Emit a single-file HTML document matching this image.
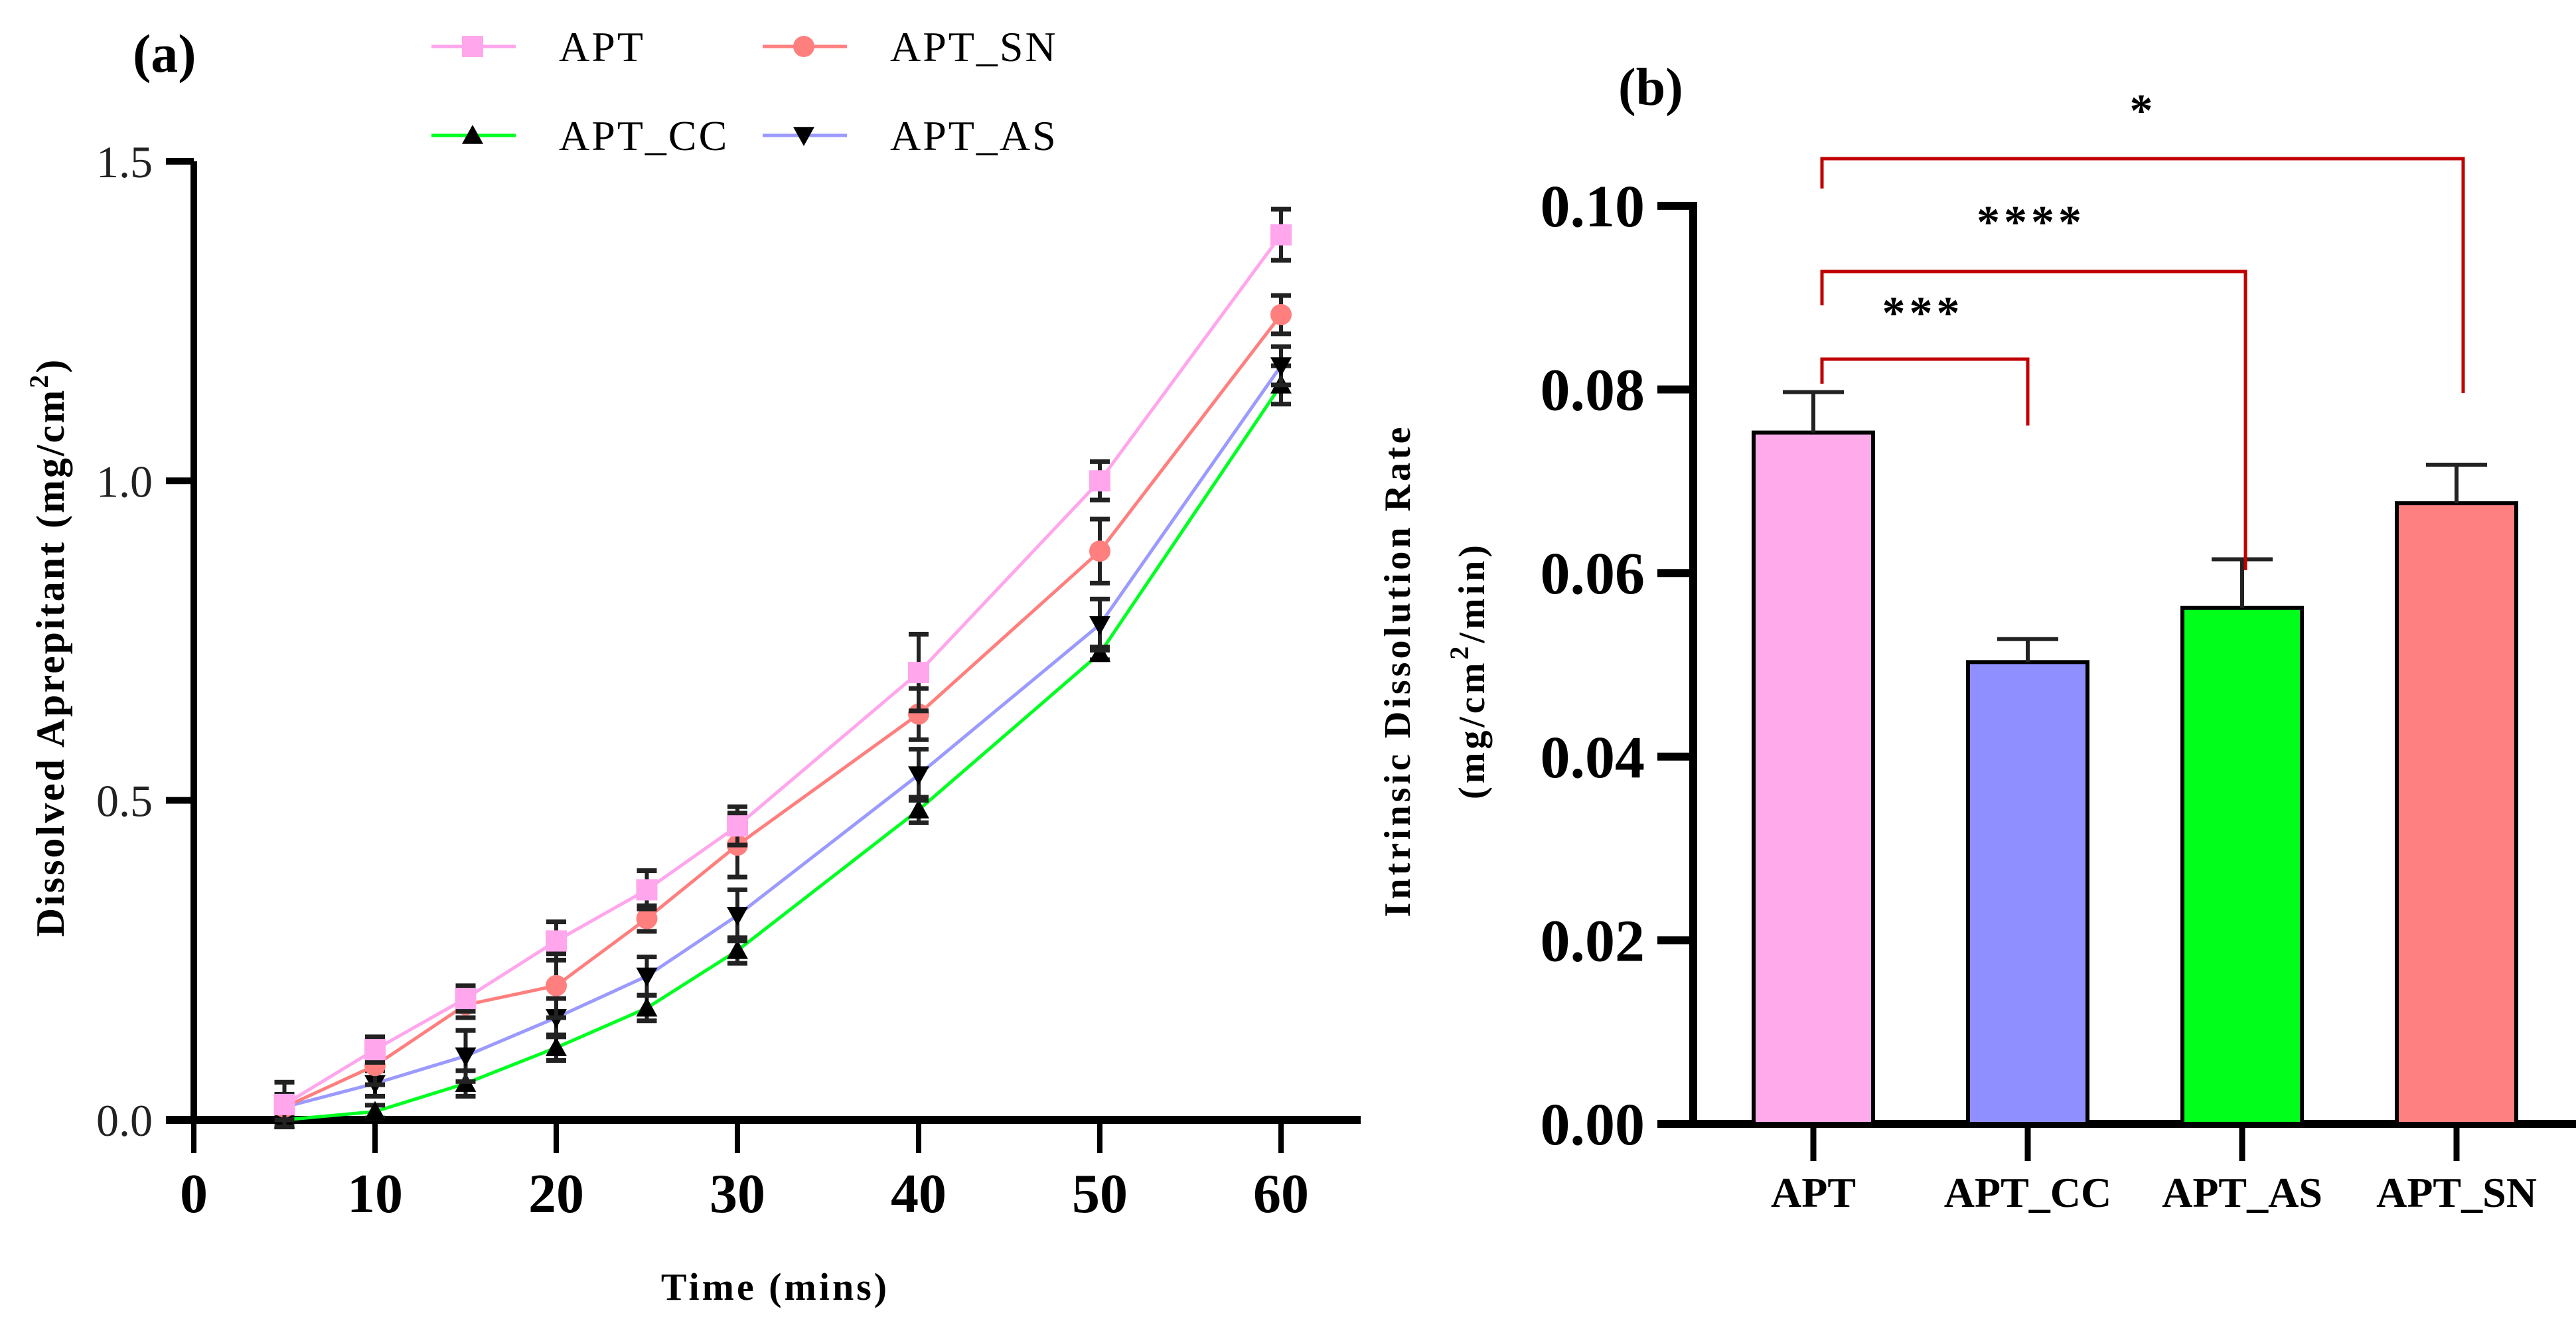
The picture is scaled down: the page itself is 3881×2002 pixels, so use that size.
<!DOCTYPE html>
<html><head><meta charset="utf-8"><style>
html,body{margin:0;padding:0;background:#fff;}
svg{display:block;}
text{font-family:"Liberation Serif",serif;}
</style></head><body>
<svg id="chart" width="3881" height="2002" viewBox="0 0 3881 2002" xmlns="http://www.w3.org/2000/svg">
<g id="pa"></g>
<g id="pb"></g>
</svg>
<script>
// Panel (a) data
const times = [5,10,15,20,25,30,40,50,60];
const aptVals = [0.024,0.11,0.19,0.28,0.36,0.46,0.70,1.00,1.385];
const aptErr  = [0.035,0.02,0.02,0.03,0.03,0.03,0.06,0.03,0.04];
const snVals  = [0.02,0.085,0.18,0.21,0.315,0.43,0.635,0.89,1.26];
const snErr   = [0.02,0.03,0.02,0.05,0.02,0.05,0.04,0.05,0.03];
const asVals  = [0.02,0.057,0.10,0.16,0.225,0.32,0.54,0.775,1.18];
const asErr   = [0.01,0.02,0.04,0.03,0.03,0.04,0.04,0.04,0.03];
const ccVals  = [0.0,0.013,0.057,0.113,0.175,0.265,0.485,0.73,1.15];
const ccErr   = [0.01,0.01,0.02,0.02,0.02,0.02,0.02,0.01,0.03];
const xTicksA = [0,10,20,30,40,50,60];
const yTicksA = ["0.0","0.5","1.0","1.5"];
// Panel (b) data
const groups = ["APT","APT_CC","APT_AS","APT_SN"];
const rates  = [0.0753,0.0503,0.0562,0.0676];
const rateErr= [0.0044,0.0025,0.0053,0.0042];
const yTicksB = ["0.00","0.02","0.04","0.06","0.08","0.10"];
const sigLabels = ["***","****","*"];

const NS="http://www.w3.org/2000/svg";
function mk(parent,tag,attrs,txt){const e=document.createElementNS(NS,tag);for(const k in attrs)e.setAttribute(k,attrs[k]);if(txt!==undefined)e.textContent=txt;parent.appendChild(e);return e;}

// ---------- Panel A ----------
const pa=document.getElementById('pa');
const ax=v=>292+v*27.3;
const ay=v=>1687-v*962.7;
let e;
e=mk(pa,'line',{x1:292,y1:ay(1.5),x2:292,y2:1693,stroke:'#000','stroke-width':10});


e=mk(pa,'line',{x1:250,y1:1687,x2:2050,y2:1687,stroke:'#000','stroke-width':12});


yTicksA.forEach(t=>{const v=parseFloat(t);
 mk(pa,'line',{x1:250,y1:ay(v),x2:292,y2:ay(v),stroke:'#000','stroke-width':10});
 e=mk(pa,'text',{x:230,y:ay(v)+24,'text-anchor':'end','font-size':68,fill:'#222'},t);
 
 
});
xTicksA.forEach(t=>{
 mk(pa,'line',{x1:ax(t),y1:1687,x2:ax(t),y2:1737,stroke:'#000','stroke-width':8});
 e=mk(pa,'text',{x:ax(t),y:1826,'text-anchor':'middle','font-size':84,'font-weight':'bold'},String(t));
 
 
});
e=mk(pa,'text',{x:1168,y:1958,'text-anchor':'middle','font-size':58,'font-weight':'bold','letter-spacing':4},'Time (mins)');


e=mk(pa,'text',{x:0,y:0,'text-anchor':'middle','font-size':60,'font-weight':'bold','letter-spacing':3,transform:'translate(96,975) rotate(-90)'});


e.innerHTML='Dissolved Aprepitant (mg/cm<tspan dy="-24" font-size="40">2</tspan><tspan dy="24">)</tspan>';
e=mk(pa,'text',{x:200,y:108,'font-size':82,'font-weight':'bold'},'(a)');



function marker(g,shape,x,y,fill){
 const s=16;
 if(shape==='square') return mk(g,'rect',{x:x-s,y:y-s,width:2*s,height:2*s,fill:fill});
 if(shape==='circle') return mk(g,'circle',{cx:x,cy:y,r:s,fill:fill});
 if(shape==='up') return mk(g,'polygon',{points:`${x},${y-s} ${x-s},${y+s*0.8} ${x+s},${y+s*0.8}`,fill:fill});
 return mk(g,'polygon',{points:`${x},${y+s} ${x-s},${y-s*0.8} ${x+s},${y-s*0.8}`,fill:fill});
}
const series=[
 {name:'apt',vals:aptVals,err:aptErr,color:'#ffa6ec',shape:'square',mfill:'#ffa6ec'},
 {name:'apt-sn',vals:snVals,err:snErr,color:'#ff7f7f',shape:'circle',mfill:'#ff7f7f'},
 {name:'apt-as',vals:asVals,err:asErr,color:'#9a9aff',shape:'down',mfill:'#000'},
 {name:'apt-cc',vals:ccVals,err:ccErr,color:'#00ff22',shape:'up',mfill:'#000'}
];
series.slice().reverse().forEach(s=>{
 const g=mk(pa,'g',{});
 
 
 const pts=times.map((t,i)=>ax(t)+','+ay(s.vals[i])).join(' ');
 e=mk(g,'polyline',{points:pts,fill:'none',stroke:s.color,'stroke-width':5});
 
 
 times.forEach((t,i)=>{
  const x=ax(t),y1=ay(s.vals[i]-s.err[i]),y2=ay(s.vals[i]+s.err[i]);
  mk(g,'line',{x1:x,y1:y1,x2:x,y2:y2,stroke:'#222','stroke-width':6});
  mk(g,'line',{x1:x-15,y1:y1,x2:x+15,y2:y1,stroke:'#222','stroke-width':7});
  mk(g,'line',{x1:x-15,y1:y2,x2:x+15,y2:y2,stroke:'#222','stroke-width':7});
  e=marker(g,s.shape,x,ay(s.vals[i]),s.mfill);
  
  
 });
});
// legend
const leg=[
 {label:'APT',x:650,y:70,s:series[0]},
 {label:'APT_SN',x:1149,y:70,s:series[1]},
 {label:'APT_CC',x:650,y:204,s:series[3]},
 {label:'APT_AS',x:1149,y:204,s:series[2]}
];
leg.forEach(L=>{
 const g=mk(pa,'g',{});
 
 
 mk(g,'line',{x1:L.x,y1:L.y,x2:L.x+127,y2:L.y,stroke:L.s.color,'stroke-width':5});
 marker(g,L.s.shape,L.x+62,L.y,L.s.mfill);
 mk(g,'text',{x:L.x+192,y:L.y+22,'font-size':64,'letter-spacing':3},L.label);
});

// ---------- Panel B ----------
const pb=document.getElementById('pb');
const by=v=>1693-v*13830;
const bx=i=>2732+i*323;
e=mk(pb,'line',{x1:2551,y1:by(0.1)-6,x2:2551,y2:1699,stroke:'#000','stroke-width':12});


e=mk(pb,'line',{x1:2497,y1:1693,x2:3881,y2:1693,stroke:'#000','stroke-width':12});


yTicksB.forEach(t=>{const v=parseFloat(t);
 mk(pb,'line',{x1:2497,y1:by(v),x2:2551,y2:by(v),stroke:'#000','stroke-width':12});
 e=mk(pb,'text',{x:2478,y:by(v)+31,'text-anchor':'end','font-size':90,'font-weight':'bold'},t);
 
 
});
groups.forEach((gname,i)=>{
 const colors=['#ffaaea','#8f8fff','#00ff1a','#ff8080'];
 const x=bx(i),w=180;
 e=mk(pb,'rect',{x:x-w/2,y:by(rates[i]),width:w,height:by(0)-by(rates[i]),fill:colors[i],stroke:'#000','stroke-width':6});
 
 
 const yt=by(rates[i]+rateErr[i]);
 mk(pb,'line',{x1:x,y1:by(rates[i]),x2:x,y2:yt,stroke:'#222','stroke-width':6});
 mk(pb,'line',{x1:x-46,y1:yt,x2:x+46,y2:yt,stroke:'#222','stroke-width':6});
 mk(pb,'line',{x1:x,y1:1693,x2:x,y2:1749,stroke:'#000','stroke-width':9});
 e=mk(pb,'text',{x:x,y:1818,'text-anchor':'middle','font-size':64,'font-weight':'bold'},gname);
 
 
});
// significance brackets
const brackets=[
 {to:1,y:541,l:578,r:641,sx:2897,sy:495},
 {to:2,y:409,l:460,r:859,sx:3060,sy:358},
 {to:3,y:239,l:284,r:592,sx:3229,sy:190}
];
brackets.forEach((b,k)=>{
 const x1=bx(0)+13,x2=bx(b.to)+(b.to===1?0:b.to===2?5:10);
 e=mk(pb,'polyline',{points:`${x1},${b.l} ${x1},${b.y} ${x2},${b.y} ${x2},${b.r}`,fill:'none',stroke:'#c00000','stroke-width':5});
 
 
 e=mk(pb,'text',{x:b.sx,y:b.sy,'text-anchor':'middle','font-size':70,'font-weight':'bold','letter-spacing':6},sigLabels[k]);
 
 
});
e=mk(pb,'text',{x:0,y:0,'text-anchor':'middle','font-size':56,'font-weight':'bold','letter-spacing':5,transform:'translate(2124,1010) rotate(-90)'},'Intrinsic Dissolution Rate');


e=mk(pb,'text',{x:0,y:0,'text-anchor':'middle','font-size':56,'font-weight':'bold','letter-spacing':5,transform:'translate(2236,1010) rotate(-90)'});


e.innerHTML='(mg/cm<tspan dy="-24" font-size="40">2</tspan><tspan dy="24">/min)</tspan>';
e=mk(pb,'text',{x:2438,y:158,'font-size':80,'font-weight':'bold'},'(b)');


</script>
</body></html>
